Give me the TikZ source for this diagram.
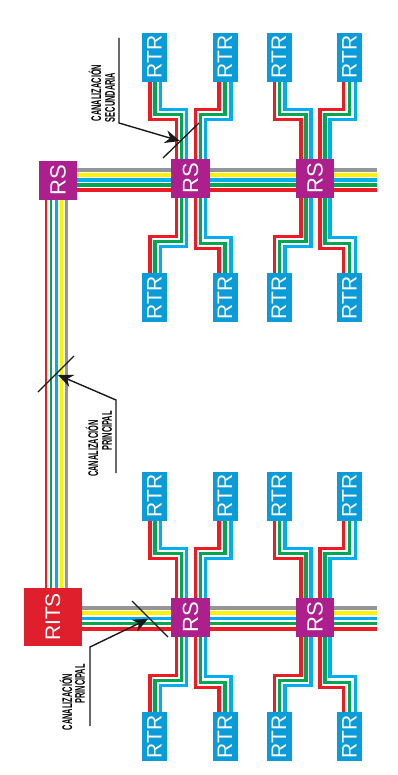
\documentclass[tikz,border=0pt]{standalone}
\usepackage{graphicx}
\usepackage{xcolor}
\usepackage{fontspec}
\setmainfont{Liberation Sans}
\newfontfamily\labelfont[FakeStretch=0.53]{Liberation Sans}
\usepackage{tikz}
\usetikzlibrary{arrows.meta, positioning, backgrounds}
\definecolor{rtrblue}{HTML}{0A9BD9}
\definecolor{rsmagenta}{HTML}{AD1F8C}
\definecolor{ritsred}{HTML}{E01F2D}
\definecolor{cblred}{HTML}{ED1C24}
\definecolor{cblgreen}{HTML}{00A651}
\definecolor{cblblue}{HTML}{00AEEF}
\definecolor{cblyellow}{HTML}{FFF200}
\definecolor{cblgray}{HTML}{939598}

\begin{document}
\begin{tikzpicture}[
    x=1pt, y=-1pt,
    rtrbox/.style={fill=rtrblue, text=white, inner sep=0pt, minimum width=25pt,
                   minimum height=49pt, font=\fontsize{21}{24}\selectfont},
    rsbox/.style={fill=rsmagenta, text=white, inner sep=0pt, minimum width=38.5pt,
                  minimum height=39pt, font=\fontsize{22}{24}\selectfont},
    ritsbox/.style={fill=ritsred, text=white, inner sep=0pt, minimum width=58pt,
                    minimum height=58pt, font=\fontsize{21}{24}\selectfont},
    cable/.style={line width=3.2pt, line join=miter},
    thincable/.style={line width=2.6pt},
    slash/.style={black!90, line width=1.3pt},
    leader/.style={black!90, line width=1.4pt, -{Stealth[length=15pt, width=13pt]}},
    lbl/.style={inner sep=0pt, font=\labelfont\bfseries\fontsize{14}{16}\selectfont}
]
\useasboundingbox (0,0) rectangle (398,775);

% distribution nodes
\node[ritsbox] (rits) at (53,617) {\rotatebox{90}{RITS}};
\node[rsbox] (rsA) at (58,180.5) {\rotatebox{90}{RS}};
\node[rsbox] (rsB) at (190.5,178.5) {\rotatebox{90}{RS}};
\node[rsbox] (rsC) at (315,178.5) {\rotatebox{90}{RS}};
\node[rsbox] (rsD) at (190.5,617.5) {\rotatebox{90}{RS}};
\node[rsbox] (rsE) at (315,617.5) {\rotatebox{90}{RS}};
\coordinate (endA) at (377,180.5);
\coordinate (endB) at (377,617);

% outlets round each RS
\foreach \rs in {rsB,rsC,rsD,rsE}{
  \node[rtrbox, above=77pt of \rs, xshift=-36pt] (\rs-ul) {\rotatebox{90}{RTR}};
  \node[rtrbox, above=77pt of \rs, xshift=34.5pt] (\rs-ur) {\rotatebox{90}{RTR}};
  \node[rtrbox, below=75pt of \rs, xshift=-36pt] (\rs-dl) {\rotatebox{90}{RTR}};
  \node[rtrbox, below=75pt of \rs, xshift=34.5pt] (\rs-dr) {\rotatebox{90}{RTR}};
}

\begin{scope}[on background layer]
% main runs
\foreach \col/\dy in {cblgray/10.5,cblyellow/5.5,cblblue/0.5,cblgreen/-4.5,cblred/-9.5}
  \draw[cable, \col] ([yshift=\dy pt]rsA.east) -- ([yshift=\dy pt]endA);
\foreach \col/\dy in {cblgray/9,cblyellow/4,cblblue/-1.5,cblgreen/-6.5,cblred/-12}
  \draw[cable, \col] ([yshift=\dy pt]rits.east) -- ([yshift=\dy pt]endB);
\foreach \col/\dx in {cblred/-12,cblgreen/-7,cblblue/-1.5,cblyellow/3.7,cblgray/8.5}
  \draw[thincable, \col] ([xshift=\dx pt]rsA.south) -- ([xshift=\dx pt]rsA.south |- rits.north);
% secondary runs
\foreach \rs in {rsB,rsC,rsD,rsE}{
  \foreach \col/\dx/\yu/\yd/\tx in {cblred/5.5/39/38/-4.5,cblgreen/10.5/44/43/0.5,cblblue/15.5/49/48/6}{
    \draw[cable, \col] ([xshift=\dx pt]\rs.north west) -- ++(0,-\yu) -| ([xshift=\tx pt]\rs-ul.south);
    \draw[cable, \col] ([xshift=\dx pt]\rs.south west) -- ++(0,\yd) -| ([xshift=\tx pt]\rs-dl.north);
  }
  \foreach \col/\dx/\yu/\yd/\tx in {cblred/24.5/49/50/-6,cblgreen/29.5/44/45/0,cblblue/34.5/39/39/6}{
    \draw[cable, \col] ([xshift=\dx pt]\rs.north west) -- ++(0,-\yu) -| ([xshift=\tx pt]\rs-ur.south);
    \draw[cable, \col] ([xshift=\dx pt]\rs.south west) -- ++(0,\yd) -| ([xshift=\tx pt]\rs-dr.north);
  }
}
\end{scope}

% callouts
\coordinate (secA) at (163,158);
\coordinate (secB) at (199,123);
\coordinate (secStart) at (119,38);
\coordinate (secKnee) at (119,123);
\coordinate (secTip) at (180,141);
\draw[slash] (secA) -- (secB);
\draw[leader] (secStart) -- (secKnee) -- (secTip);
\node[lbl] (secTop) at (95,93) {\rotatebox{90}{CANALIZACIÓN}};
\node[lbl] (secLow) at (110,97.5) {\rotatebox{90}{SECUNDARIA}};

\coordinate (midA) at (38,392);
\coordinate (midB) at (74,356);
\coordinate (midStart) at (116,473);
\coordinate (midKnee) at (116,400);
\coordinate (midTip) at (58,375);
\draw[slash] (midA) -- (midB);
\draw[leader] (midStart) -- (midKnee) -- (midTip);
\node[lbl] (midTop) at (92,448.5) {\rotatebox{90}{CANALIZACIÓN}};
\node[lbl] (midLow) at (107,431) {\rotatebox{90}{PRINCIPAL}};

\coordinate (lowA) at (132,601);
\coordinate (lowB) at (168,637);
\coordinate (lowStart) at (90,726);
\coordinate (lowKnee) at (90,647);
\coordinate (lowTip) at (148,619);
\draw[slash] (lowA) -- (lowB);
\draw[leader] (lowStart) -- (lowKnee) -- (lowTip);
\node[lbl] (lowTop) at (66,702) {\rotatebox{90}{CANALIZACIÓN}};
\node[lbl] (lowLow) at (80,684) {\rotatebox{90}{PRINCIPAL}};
\end{tikzpicture}
\end{document}
